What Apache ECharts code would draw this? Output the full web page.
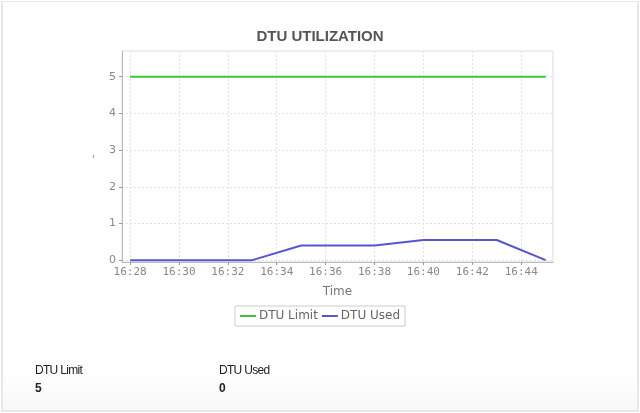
<!DOCTYPE html>
<html>
<head>
<meta charset="utf-8">
<script src="https://cdn.jsdelivr.net/npm/echarts@6/dist/echarts.min.js"></script>
<style>
  body { margin: 0; background: #fff; }
  #panel { position: absolute; left: 1px; top: 1px; width: 634px; height: 408px;
    border: 2px solid #e8e8e8; border-top-width: 1px;
    background: linear-gradient(to bottom, #fff 0, #fff 370px, #f8f8f8 408px); }
  #chart { position: absolute; left: 0; top: 0; width: 640px; height: 413px; }
  .stat { position: absolute; font-family: "Liberation Sans", Arial, sans-serif;
    font-size: 12px; color: #222; letter-spacing: -0.7px; }
  .stat b { display: block; margin-top: 4px; font-size: 12px; letter-spacing: 0; }
</style>
</head>
<body>
<div id="panel"></div>
<div id="chart"></div>
<div class="stat" style="left:35px; top:363px;">DTU Limit<b>5</b></div>
<div class="stat" style="left:219px; top:363px;">DTU Used<b>0</b></div>
<script>
// minutes past 16:00
const times = [28, 30, 33, 35, 38, 40, 43, 45];
const dtuLimit = [5, 5, 5, 5, 5, 5, 5, 5];
const dtuUsed = [0, 0, 0, 0.4, 0.4, 0.55, 0.55, 0];
const xTicks = [28, 30, 32, 34, 36, 38, 40, 42, 44];
const yTicks = [0, 1, 2, 3, 4, 5];

const chart = echarts.init(document.getElementById('chart'), null, { renderer: 'canvas' });

const pair = (vals) => times.map((t, i) => [t, vals[i]]);

const option = {
  animation: false,
  title: {
    text: 'DTU UTILIZATION',
    left: 'center',
    top: 24,
    textStyle: { fontFamily: 'Liberation Sans, Arial', fontSize: 15, fontWeight: 'bold', color: '#555' }
  },
  grid: {
    left: 122, right: 87, top: 51, bottom: 151,
    show: true, borderColor: '#dcdcdc', borderWidth: 1
  },
  legend: {
    bottom: 87,
    left: 'center',
    itemWidth: 16,
    itemHeight: 2,
    itemGap: 4,
    padding: [4, 5],
    borderColor: '#ccc',
    borderWidth: 1,
    icon: 'rect',
    textStyle: { fontFamily: 'DejaVu Sans', fontSize: 12, color: '#666', padding: [0, 0, 0, -2] },
    data: ['DTU Limit', 'DTU Used']
  },
  xAxis: {
    type: 'value',
    min: 27.67,
    max: 45.3,
    name: 'Time',
    nameLocation: 'middle',
    nameGap: 24,
    nameTextStyle: { fontFamily: 'DejaVu Sans', fontSize: 12, color: '#777' },
    axisLine: { show: true, onZero: false, lineStyle: { color: '#bbb' } },
    axisTick: { show: true, length: 3, customValues: xTicks, lineStyle: { color: '#999' } },
    axisLabel: {
      customValues: xTicks,
      formatter: (v) => '16:' + String(Math.round(v)).padStart(2, '0'),
      fontFamily: 'DejaVu Sans Mono', fontSize: 11, color: '#888', margin: 5
    },
    splitLine: { show: true, customValues: xTicks, lineStyle: { color: '#e2e2e2', type: [2, 2] } }
  },
  yAxis: {
    type: 'value',
    min: -0.05,
    max: 5.7,
    name: '-',
    nameLocation: 'middle',
    nameRotate: 90,
    nameGap: 22,
    nameTextStyle: { fontFamily: 'DejaVu Sans', fontSize: 10, color: '#777' },
    axisLine: { show: true, lineStyle: { color: '#bbb' } },
    axisTick: { show: true, length: 3, customValues: yTicks, lineStyle: { color: '#999' } },
    axisLabel: {
      customValues: yTicks,
      fontFamily: 'DejaVu Sans', fontSize: 11, color: '#888', margin: 6
    },
    splitLine: { show: true, customValues: yTicks, lineStyle: { color: '#e2e2e2', type: [2, 2] } }
  },
  series: [
    {
      name: 'DTU Limit',
      type: 'line',
      data: pair(dtuLimit),
      showSymbol: false,
      color: '#3cc43c',
      lineStyle: { width: 2, color: '#3cc43c' }
    },
    {
      name: 'DTU Used',
      type: 'line',
      data: pair(dtuUsed),
      showSymbol: false,
      color: '#5555d5',
      lineStyle: { width: 2, color: '#5555d5' }
    }
  ]
};

chart.setOption(option);
</script>
</body>
</html>
